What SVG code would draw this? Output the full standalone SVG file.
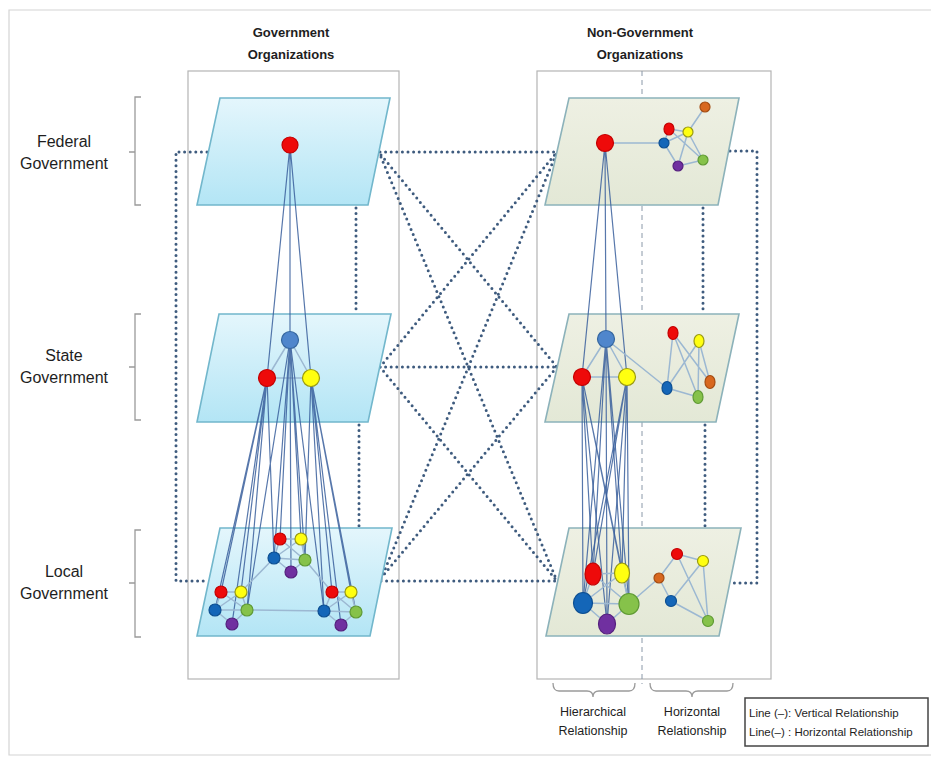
<svg xmlns="http://www.w3.org/2000/svg" width="931" height="759" viewBox="0 0 931 759">
<style>
text{font-family:"Liberation Sans",Arial,sans-serif;fill:#1e1e1e}
.hdr{font-size:13px;font-weight:bold;text-anchor:middle}
.lvl{font-size:16px;text-anchor:middle}
.rel{font-size:12.5px;text-anchor:middle}
.leg{font-size:11.5px}
.frame{fill:none;stroke:#d4d4d4;stroke-width:1.2}
.box{fill:none;stroke:#b4b4b4;stroke-width:1.2}
.brk{fill:none;stroke:#9a9a9a;stroke-width:1.3}
.gov{fill:url(#gg);stroke:#72b7cc;stroke-width:1.6}
.ngo{fill:url(#ng);stroke:#8cb2ba;stroke-width:1.6}
.dot{fill:none;stroke:#3e5b7e;stroke-width:3;stroke-linecap:round;stroke-dasharray:0 5.6}
.dash{fill:none;stroke:#8a98a8;stroke-width:1;stroke-dasharray:5 4}
.v{stroke:#3a5f9c;stroke-width:1.2;stroke-opacity:.85;fill:none}
.h{stroke:#9cb8d2;stroke-width:1.5;fill:none}
.r{fill:#ee0a0a;stroke:#c40000;stroke-width:1.2}
.y{fill:#ffff10;stroke:#9a9a10;stroke-width:1.2}
.b{fill:#1466b8;stroke:#0d4f92;stroke-width:1.2}
.lb{fill:#4f86cc;stroke:#36679f;stroke-width:1.2}
.g{fill:#86c24a;stroke:#5f9a34;stroke-width:1.2}
.p{fill:#7030a0;stroke:#55207e;stroke-width:1.2}
.o{fill:#d8681f;stroke:#a44c12;stroke-width:1.2}
</style>
<defs>
<linearGradient id="gg" x1="0" y1="0" x2="0" y2="1">
<stop offset="0" stop-color="#e4f6fc"/>
<stop offset="1" stop-color="#b3e5f5"/>
</linearGradient>
<linearGradient id="ng" x1="0" y1="0" x2="0" y2="1">
<stop offset="0" stop-color="#eef0e3"/>
<stop offset="1" stop-color="#e3e8d6"/>
</linearGradient>
</defs>

<rect width="931" height="759" fill="#ffffff"/>
<path class="frame" d="M931,10 H9 V755 H931"/>

<g id="labels">
<text class="hdr" x="291" y="37">Government</text>
<text class="hdr" x="291" y="59">Organizations</text>
<text class="hdr" x="640" y="37">Non-Government</text>
<text class="hdr" x="640" y="59">Organizations</text>
<text class="lvl" x="64" y="147">Federal</text>
<text class="lvl" x="64" y="169">Government</text>
<text class="lvl" x="64" y="361">State</text>
<text class="lvl" x="64" y="383">Government</text>
<text class="lvl" x="64" y="577">Local</text>
<text class="lvl" x="64" y="599">Government</text>
<text class="rel" x="593" y="716">Hierarchical</text>
<text class="rel" x="593" y="735">Relationship</text>
<text class="rel" x="692" y="716">Horizontal</text>
<text class="rel" x="692" y="735">Relationship</text>
</g>

<g id="brackets">
<path class="brk" d="M141,97 H135 V205 H141 M135,152 H129"/>
<path class="brk" d="M141,314 H135 V420 H141 M135,367 H129"/>
<path class="brk" d="M141,530 H135 V637 H141 M135,583 H129"/>
<path class="brk" d="M553,683 Q553,691 559,691 H587 Q593,691 593,697 Q593,691 599,691 H629 Q635,691 635,683"/>
<path class="brk" d="M650,683 Q650,691 656,691 H686 Q692,691 692,697 Q692,691 698,691 H727 Q733,691 733,683"/>
</g>

<g id="legend">
<rect x="745" y="698" width="183" height="48" fill="#fff" stroke="#444" stroke-width="1.5"/>
<text class="leg" x="749" y="717">Line (–): Vertical Relationship</text>
<text class="leg" x="749" y="736">Line(–) : Horizontal Relationship</text>
</g>

<g id="gov-box"><rect class="box" x="188" y="71" width="211" height="608"/></g>
<g id="ngo-box"><rect class="box" x="537" y="71" width="234" height="608"/>
<path class="dash" d="M642,71 V684"/></g>

<g id="dotted-connectors">
<path class="dot" d="M207,152 H176 V581 H206"/>
<path class="dot" d="M356,208 V312 M359,425 V526"/>
<path class="dot" d="M703,208 V312 M705,425 V526"/>
<path class="dot" d="M730,151 H757 V583 H729"/>
<path class="dot" d="M380,152 H557 M380,367 H557 M381,581 H557"/>
<path class="dot" d="M381,155 L557,367 M381,157 L557,581"/>
<path class="dot" d="M380,367 L557,152 M380,367 L557,581"/>
<path class="dot" d="M381,579 L557,152 M381,578 L557,367"/>
</g>

<g id="gov-federal"><polygon class="gov" points="220,98 390,98 368,205 197,205"/></g>
<g id="gov-state"><polygon class="gov" points="219,314 391,314 368,422 197,422"/></g>
<g id="gov-local"><polygon class="gov" points="220,528 392,528 370,636 197,636"/></g>
<g id="ngo-federal"><polygon class="ngo" points="569,98 739,98 718,205 545,205"/></g>
<g id="ngo-state"><polygon class="ngo" points="569,314 739,314 716,422 545,422"/></g>
<g id="ngo-local"><polygon class="ngo" points="569,528 741,528 719,636 546,636"/></g>

<g id="connectors">
<path class="v" d="M290,145 L290,340 M290,145 L267,378 M290,145 L311,378"/>
<path class="h" d="M290,340 L267,378 M290,340 L311,378 M267,378 L311,378"/>
<path class="v" d="M267,378 L221,592 M267,378 L241,592 M267,378 L215,610 M267,378 L247,610 M267,378 L232,624"/>
<path class="v" d="M290,340 L280,539 M290,340 L301,539 M290,340 L274,558 M290,340 L305,560 M290,340 L291,572"/>
<path class="v" d="M311,378 L332,592 M311,378 L351,592 M311,378 L324,611 M311,378 L356,612 M311,378 L341,625"/>
<path class="v" d="M267,378 L274,558 M311,378 L305,560 M290,340 L247,610 M290,340 L324,611"/>
<path class="h" d="M280,539 L301,539 M280,539 L274,558 M301,539 L305,560 M274,558 L291,572 M305,560 L291,572 M274,558 L305,560 M280,539 L305,560 M301,539 L274,558"/>
<path class="h" d="M221,592 L241,592 M221,592 L215,610 M241,592 L247,610 M215,610 L232,624 M247,610 L232,624 M215,610 L247,610 M221,592 L247,610 M241,592 L215,610"/>
<path class="h" d="M332,592 L351,592 M332,592 L324,611 M351,592 L356,612 M324,611 L341,625 M356,612 L341,625 M324,611 L356,612 M332,592 L356,612 M351,592 L324,611"/>
<path class="h" d="M274,558 L241,592 M305,560 L332,592 M247,610 L324,611"/>
<path class="v" d="M605,143 L606,339 M605,143 L582,377 M605,143 L627,377"/>
<path class="h" d="M605,143 L664,143 M664,143 L669,129 M664,143 L688,132 M664,143 L678,166 M669,129 L703,160 M688,132 L703,160 M678,166 L703,160 M688,132 L705,107 M688,132 L678,166 M669,129 L688,132"/>
<path class="h" d="M606,339 L582,377 M606,339 L627,377 M582,377 L627,377 M606,339 L667,388"/>
<path class="h" d="M673,333 L667,388 M673,333 L698,397 M673,333 L710,382 M699,341 L667,388 M699,341 L698,397 M699,341 L710,382 M667,388 L698,397"/>
<path class="v" d="M606,339 L593,574 M606,339 L622,573 M606,339 L583,603 M606,339 L629,604 M606,339 L607,624"/>
<path class="v" d="M582,377 L593,574 M582,377 L622,573 M582,377 L583,603 M582,377 L629,604 M582,377 L607,624"/>
<path class="v" d="M627,377 L593,574 M627,377 L622,573 M627,377 L583,603 M627,377 L629,604 M627,377 L607,624"/>
<path class="h" d="M593,574 L622,573 M593,574 L583,603 M622,573 L629,604 M583,603 L629,604 M583,603 L607,624 M629,604 L607,624 M593,574 L629,604 M622,573 L583,603"/>
<path class="h" d="M629,604 L659,578 M659,578 L677,554 M659,578 L671,601 M677,554 L703,561 M677,554 L708,621 M703,561 L671,601 M703,561 L708,621 M671,601 L708,621"/>
</g>

<g id="gov-federal-nodes"><circle class="r" cx="290" cy="145" r="8"/></g>
<g id="gov-state-nodes">
<circle class="lb" cx="290" cy="340" r="8.5"/>
<circle class="r" cx="267" cy="378" r="8.5"/>
<circle class="y" cx="311" cy="378" r="8.5"/>
</g>
<g id="gov-local-nodes">
<circle class="r" cx="280" cy="539" r="6"/><circle class="y" cx="301" cy="539" r="6"/><circle class="b" cx="274" cy="558" r="6"/><circle class="g" cx="305" cy="560" r="6"/><circle class="p" cx="291" cy="572" r="6"/>
<circle class="r" cx="221" cy="592" r="6"/><circle class="y" cx="241" cy="592" r="6"/><circle class="b" cx="215" cy="610" r="6"/><circle class="g" cx="247" cy="610" r="6"/><circle class="p" cx="232" cy="624" r="6"/>
<circle class="r" cx="332" cy="592" r="6"/><circle class="y" cx="351" cy="592" r="6"/><circle class="b" cx="324" cy="611" r="6"/><circle class="g" cx="356" cy="612" r="6"/><circle class="p" cx="341" cy="625" r="6"/>
</g>
<g id="ngo-federal-nodes">
<circle class="r" cx="605" cy="143" r="8.5"/>
<ellipse class="r" cx="669" cy="129" rx="5" ry="6"/><circle class="y" cx="688" cy="132" r="5"/><circle class="o" cx="705" cy="107" r="5"/><circle class="b" cx="664" cy="143" r="5"/><circle class="p" cx="678" cy="166" r="5"/><circle class="g" cx="703" cy="160" r="5"/>
</g>
<g id="ngo-state-nodes">
<circle class="lb" cx="606" cy="339" r="8.5"/>
<circle class="r" cx="582" cy="377" r="8.5"/>
<circle class="y" cx="627" cy="377" r="8.5"/>
<ellipse class="r" cx="673" cy="333" rx="5" ry="6.5"/><ellipse class="y" cx="699" cy="341" rx="5" ry="6.5"/><ellipse class="o" cx="710" cy="382" rx="5" ry="6.5"/><ellipse class="b" cx="667" cy="388" rx="5" ry="6.5"/><ellipse class="g" cx="698" cy="397" rx="5" ry="6.5"/>
</g>
<g id="ngo-local-nodes">
<ellipse class="r" cx="593" cy="574" rx="8" ry="11"/>
<ellipse class="y" cx="622" cy="573" rx="7.5" ry="10"/>
<ellipse class="b" cx="583" cy="603" rx="9.5" ry="10.5"/>
<ellipse class="g" cx="629" cy="604" rx="10" ry="10.5"/>
<ellipse class="p" cx="607" cy="624" rx="8.5" ry="10"/>
<circle class="o" cx="659" cy="578" r="5"/><circle class="r" cx="677" cy="554" r="5.5"/><circle class="y" cx="703" cy="561" r="5.5"/><circle class="b" cx="671" cy="601" r="5.5"/><circle class="g" cx="708" cy="621" r="5.5"/>
</g>
</svg>
